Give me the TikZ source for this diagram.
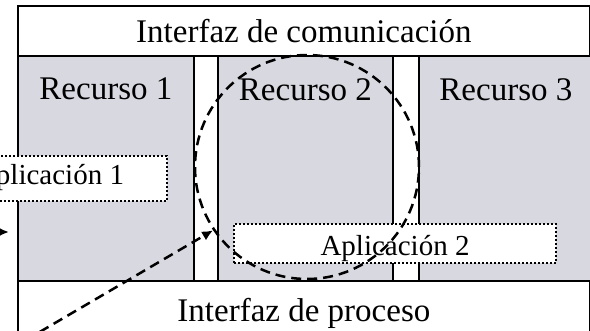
\documentclass[tikz,border=0pt]{standalone}
\usepackage{fontspec}
\setmainfont{Liberation Serif}
\usepackage{tikz}
\usetikzlibrary{shapes,arrows,arrows.meta}
\usetikzlibrary{positioning}
\definecolor{recgray}{RGB}{216,216,225}
\newcommand\mybox[5][]{%
  \node[mybox,#1,minimum width=#2pt,minimum height=#3pt] (#4) {#5};
}

\begin{document}
\begin{tikzpicture}[
x=1pt, y=-1pt,
font=\fontsize{33}{40}\selectfont,
mybox/.style={
  rectangle,
  draw,
  line width=1.8pt,
  inner sep=0pt,
  anchor=north west},
recurso/.style={
  fill=recgray,
  label={[anchor=north,inner sep=0pt,yshift=-23pt]north:#1}},
aplic/.style={
  fill=white,
  line width=2pt,
  dash pattern=on 2pt off 2pt,
  font=\fontsize{29}{35}\selectfont},
grupo/.style={
  circle,
  draw,
  line width=2.5pt,
  dash pattern=on 10pt off 6pt,
  minimum size=224pt,
  inner sep=0pt},
flecha/.style={
  -{Latex[length=11pt,width=10pt]},
  line width=2.5pt,
  dash pattern=on 10pt off 6pt}
]
\clip (0,0) rectangle (590,330);
\node[mybox,minimum width=572pt,minimum height=50pt] (com) at (17,5) {Interfaz de comunicaci\'on};
\mybox[recurso={Recurso 1},at={(17,55)}]{176}{225}{r1}{}
\mybox[recurso={Recurso 2},at={(217,55)}]{175}{225}{r2}{}
\mybox[recurso={Recurso 3},at={(418,55)}]{174}{225}{r3}{}
\mybox[at={(17,280)}]{572}{65}{proc}{Interfaz de proceso}
% aplicaciones
\mybox[aplic,anchor=north east,at={(168,155)},text height=28pt,text depth=17pt]{235}{0}{ap1}{Aplicaci\'on 1}
\mybox[aplic,at={(233,223)},text height=31pt,text depth=8pt]{322}{0}{ap2}{Aplicaci\'on 2}
% grupo de recursos
\node[grupo] (g) at (307,167) {};
\coordinate (inicio) at (26,340);
\coordinate (izq) at (-30,232);
\coordinate (punta) at (9,232);
\draw [flecha] (inicio) -- (g.214);
\draw [flecha] (izq) -- (punta);
\end{tikzpicture}
\end{document}
